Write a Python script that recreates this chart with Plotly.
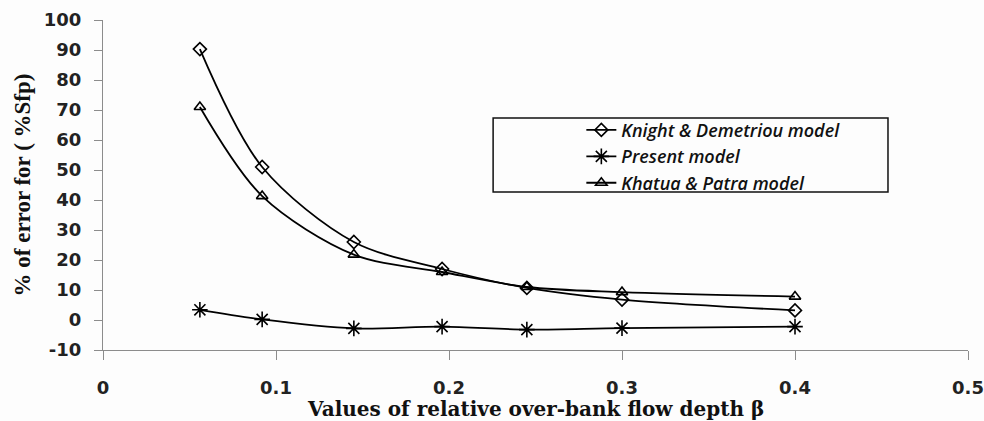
import plotly.graph_objects as go

# Relative over-bank flow depth (beta)
beta = [0.056, 0.092, 0.145, 0.196, 0.245, 0.300, 0.400]

# Percentage error in %Sfp for each model
knight_demetriou = [90.3, 51.0, 26.0, 17.0, 10.7, 6.8, 3.2]
present_model = [3.4, 0.2, -2.8, -2.2, -3.2, -2.7, -2.2]
khatua_patra = [71.0, 41.3, 21.8, 16.0, 11.0, 9.3, 7.8]

x_ticks = [0, 0.1, 0.2, 0.3, 0.4, 0.5]
x_tick_text = ["0", "0.1", "0.2", "0.3", "0.4", "0.5"]
y_ticks = [-10, 0, 10, 20, 30, 40, 50, 60, 70, 80, 90, 100]
y_tick_text = ["-10", "0", "10", "20", "30", "40", "50", "60", "70", "80", "90", "100"]

series = [
    ("Knight & Demetriou model", knight_demetriou, "diamond-open", 10),
    ("Present model", present_model, "asterisk-open", 13),
    ("Khatua & Patra model", khatua_patra, "triangle-up-open", 10),
]

fig = go.Figure()
for name, values, symbol, size in series:
    fig.add_trace(go.Scatter(
        x=beta, y=values, name=name,
        mode="lines+markers",
        line=dict(color="black", width=1.8, shape="spline", smoothing=0.9),
        marker=dict(symbol=symbol, size=size, color="black",
                    line=dict(color="black", width=1.6)),
    ))

axis_color = "#8c8c8c"
tick_font = dict(family="DejaVu Sans", size=18, color="#222222", weight="bold")

fig.update_layout(
    width=984, height=421,
    margin=dict(l=103, r=16, t=20, b=71),
    paper_bgcolor="#fdfdfd",
    plot_bgcolor="#fdfdfd",
    showlegend=True,
    legend=dict(
        x=0.553, y=0.722, xanchor="left", yanchor="top",
        bgcolor="rgba(0,0,0,0)", borderwidth=0,
        font=dict(family="Open Sans", size=18, color="#111111",
                  style="italic", weight=600),
        tracegroupgap=0,
    ),
    xaxis=dict(
        range=[0, 0.5], tickvals=x_ticks, ticktext=x_tick_text,
        showgrid=False, zeroline=False, automargin=False,
        showline=True, linecolor=axis_color, linewidth=1,
        ticks="outside", tickcolor=axis_color, ticklen=9, tickwidth=1,
        tickfont=tick_font, ticklabelstandoff=12,
    ),
    yaxis=dict(
        range=[-10, 100], tickvals=y_ticks, ticktext=y_tick_text,
        showgrid=False, zeroline=False, automargin=False,
        showline=True, linecolor=axis_color, linewidth=1,
        ticks="outside", tickcolor=axis_color, ticklen=8, tickwidth=1,
        tickfont=tick_font, ticklabelstandoff=9,
        title=dict(text="<b>% of error for ( %Sfp)</b>",
                   font=dict(family="Liberation Serif", size=23, color="#111111"),
                   standoff=6),
    ),
    annotations=[dict(
        text="<b>Values of relative over-bank flow depth β</b>",
        xref="paper", yref="paper", x=0.5, y=-0.178,
        xanchor="center", yanchor="middle", showarrow=False,
        font=dict(family="DejaVu Serif", size=20, color="#111111"),
    )],
    shapes=[dict(
        type="rect", xref="paper", yref="paper",
        x0=0.451, x1=0.9075, y0=0.479, y1=0.703,
        line=dict(color="#111111", width=1.5),
        fillcolor="rgba(0,0,0,0)",
    )],
)

fig.write_html("out.html")
